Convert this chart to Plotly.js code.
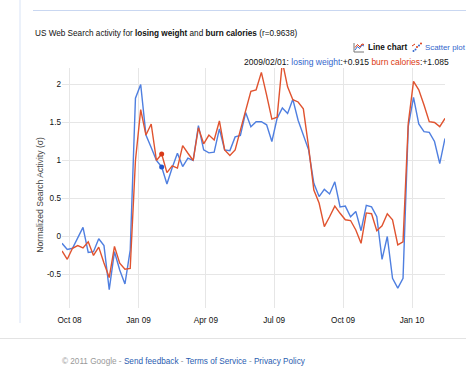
<!DOCTYPE html>
<html>
<head>
<meta charset="utf-8">
<script src="https://cdn.plot.ly/plotly-3.0.1.min.js"></script>
<style>
html,body{margin:0;padding:0;background:#fff;}
#chart{width:466px;height:381px;}
</style>
</head>
<body>
<div id="chart"></div>
<script>
// Weekly dates (Sundays)
const weeks = [
'2008-09-21','2008-09-28','2008-10-05','2008-10-12','2008-10-19','2008-10-26','2008-11-02','2008-11-09','2008-11-16','2008-11-23','2008-11-30','2008-12-07','2008-12-14','2008-12-21','2008-12-28',
'2009-01-04','2009-01-11','2009-01-18','2009-01-25','2009-02-01','2009-02-08','2009-02-15','2009-02-22','2009-03-01','2009-03-08','2009-03-15','2009-03-22','2009-03-29',
'2009-04-05','2009-04-12','2009-04-19','2009-04-26','2009-05-03','2009-05-10','2009-05-17','2009-05-24','2009-05-31','2009-06-07','2009-06-14','2009-06-21','2009-06-28',
'2009-07-05','2009-07-12','2009-07-19','2009-07-26','2009-08-02','2009-08-09','2009-08-16','2009-08-23','2009-08-30','2009-09-06','2009-09-13','2009-09-20','2009-09-27',
'2009-10-04','2009-10-11','2009-10-18','2009-10-25','2009-11-01','2009-11-08','2009-11-15','2009-11-22','2009-11-29','2009-12-06','2009-12-13','2009-12-20','2009-12-27',
'2010-01-03','2010-01-10','2010-01-17','2010-01-24','2010-01-31','2010-02-07','2010-02-14'
];

const losingWeight = [
-0.09,-0.17,-0.155,-0.02,0.12,-0.21,-0.20,-0.03,-0.12,-0.70,-0.20,-0.44,-0.625,-0.18,1.82,
2.0,1.335,1.17,1.0,0.915,0.69,0.905,1.095,0.92,1.03,1.0,1.46,1.14,
1.10,1.11,1.415,1.14,1.13,1.31,1.33,1.63,1.445,1.51,1.51,1.47,1.25,
1.555,1.69,1.62,1.805,1.53,1.34,1.14,0.70,0.525,0.62,0.56,0.72,0.39,
0.40,0.26,0.33,0.076,0.41,0.39,0.26,-0.30,0.0,-0.55,-0.68,-0.55,1.45,
1.83,1.48,1.38,1.37,1.25,0.96,1.29
];

const burnCalories = [
-0.19,-0.30,-0.155,-0.12,-0.15,-0.07,-0.25,-0.14,-0.35,-0.54,-0.13,-0.35,-0.43,-0.42,1.0,
1.67,1.335,1.48,1.0,1.085,0.84,0.93,0.90,1.195,1.095,1.0,1.43,1.22,
1.335,1.27,1.52,1.14,1.065,1.14,1.40,1.655,1.91,1.93,2.16,1.86,1.545,
1.57,2.3,1.97,1.80,1.77,1.68,1.18,0.61,0.44,0.13,0.26,0.40,0.305,
0.22,0.21,0.085,-0.09,0.31,0.30,0.076,0.14,0.30,0.22,-0.11,-0.07,1.49,
2.04,1.93,1.73,1.51,1.50,1.445,1.555
];

const yTickVals = [-0.5, 0, 0.5, 1, 1.5, 2];
const yTickText = ['-0.5', '0', '0.5', '1', '1.5', '2'];
const seriesNames = ['losing weight', 'burn calories'];
const hoverIdx = 19;

const BLUE = '#4f7fe0', RED = '#e0532f';
const FONT = 'Arial, "Liberation Sans", sans-serif';

// page-pixel -> paper helpers (plot area 62..445 x 68..308)
const L = 62, T = 68, PW = 383, PH = 240;
const px = x => (x - L) / PW;
const py = y => (T + PH - y) / PH;
const P = (x, y) => px(x) + ',' + py(y);

const traces = [
  {x: weeks, y: losingWeight, type: 'scatter', mode: 'lines', name: seriesNames[0],
   line: {color: BLUE, width: 1.4}, hoverinfo: 'skip'},
  {x: weeks, y: burnCalories, type: 'scatter', mode: 'lines', name: seriesNames[1],
   line: {color: RED, width: 1.4}, hoverinfo: 'skip'},
  {x: [weeks[hoverIdx]], y: [losingWeight[hoverIdx]], type: 'scatter', mode: 'markers',
   marker: {color: '#2255cc', size: 5}, hoverinfo: 'skip'},
  {x: [weeks[hoverIdx]], y: [burnCalories[hoverIdx]], type: 'scatter', mode: 'markers',
   marker: {color: '#d83a18', size: 5}, hoverinfo: 'skip'}
];

const fmt = v => (v >= 0 ? '+' : '') + v.toFixed(3);
const hoverText = weeks[hoverIdx].replace(/-/g, '/') + ': ' +
  '<span style="color:#3366cc">' + seriesNames[0] + '</span>:' + fmt(losingWeight[hoverIdx]) + ' ' +
  '<span style="color:#dc3912">' + seriesNames[1] + '</span>:' + fmt(burnCalories[hoverIdx]);

const ann = (x, y, text, opts) => Object.assign({
  xref: 'paper', yref: 'paper', x: px(x), y: py(y), text: text, showarrow: false,
  xanchor: 'left', yanchor: 'middle', font: {family: FONT, size: 8.2, color: '#111'}
}, opts || {});

const layout = {
  width: 466, height: 381,
  margin: {l: L, r: 466 - L - PW, t: T, b: 381 - T - PH, pad: 0},
  paper_bgcolor: '#fff', plot_bgcolor: '#fff',
  showlegend: false,
  font: {family: FONT, size: 8.2, color: '#111'},
  xaxis: {
    type: 'date', range: ['2008-09-21', '2010-02-14'],
    tick0: '2008-10-01', dtick: 'M3', tickformat: '%b %y',
    showgrid: true, gridcolor: '#e6e6e6', gridwidth: 1,
    zeroline: false, showline: false, ticks: '',
    ticklabelstandoff: 6,
    tickfont: {family: FONT, size: 8.2, color: '#111'},
    fixedrange: true
  },
  yaxis: {
    range: [-0.941, 2.217],
    tickvals: yTickVals, ticktext: yTickText,
    showgrid: true, gridcolor: '#e6e6e6', gridwidth: 1,
    zeroline: false, showline: false, ticks: '',
    tickfont: {family: FONT, size: 8.2, color: '#111'},
    fixedrange: true
  },
  annotations: [
    ann(33, 33, 'US Web Search activity for <b>losing weight</b> and <b>burn calories</b> (r=0.9638)'),
    ann(366, 47.5, '<b>Line chart</b>', {font: {family: FONT, size: 8.2, color: '#111'}}),
    ann(423, 47.5, 'Scatter plot', {font: {family: FONT, size: 7.9, color: '#3366cc'}}),
    ann(242, 62, hoverText, {font: {family: FONT, size: 8.5, color: '#111'}}),
    ann(39.7, 195, 'Normalized Search Activity (σ)', {xanchor: 'center', textangle: -90,
      font: {family: FONT, size: 8.6, color: '#444'}}),
    ann(60, 361, '© 2011 Google - <span style="color:#2a5db0">Send feedback</span> - ' +
      '<span style="color:#2a5db0">Terms of Service</span> - <span style="color:#2a5db0">Privacy Policy</span>',
      {font: {family: FONT, size: 8.2, color: '#999'}})
  ],
  shapes: [
    // page decorations
    {type: 'line', xref: 'paper', yref: 'paper', x0: px(20), x1: px(20), y0: py(0), y1: py(323),
     line: {color: '#d8e3f6', width: 1}, layer: 'below'},
    {type: 'line', xref: 'paper', yref: 'paper', x0: px(33), x1: px(466), y0: py(10.5), y1: py(10.5),
     line: {color: '#c9d7f1', width: 1}, layer: 'below'},
    {type: 'line', xref: 'paper', yref: 'paper', x0: px(0), x1: px(466), y0: py(338.5), y1: py(338.5),
     line: {color: '#e3e3e3', width: 1}, layer: 'below'},
    // line chart icon
    {type: 'path', xref: 'paper', yref: 'paper', path: 'M' + P(354, 43) + 'L' + P(354, 52) + 'L' + P(364, 52),
     line: {color: '#777', width: 1}},
    {type: 'path', xref: 'paper', yref: 'paper',
     path: 'M' + P(355, 50) + 'L' + P(357.5, 46.5) + 'L' + P(359.5, 48.5) + 'L' + P(362, 45) + 'L' + P(364, 46),
     line: {color: '#3366cc', width: 1}},
    {type: 'path', xref: 'paper', yref: 'paper',
     path: 'M' + P(355, 47.5) + 'L' + P(357.5, 44.5) + 'L' + P(360, 47) + 'L' + P(362, 44) + 'L' + P(364, 44.5),
     line: {color: '#dc3912', width: 1}},
    // scatter icon
    {type: 'circle', xref: 'paper', yref: 'paper', x0: px(412.5), x1: px(414.5), y0: py(50), y1: py(52),
     fillcolor: '#3366cc', line: {width: 0}},
    {type: 'circle', xref: 'paper', yref: 'paper', x0: px(414.5), x1: px(416.5), y0: py(48.5), y1: py(50.5),
     fillcolor: '#3366cc', line: {width: 0}},
    {type: 'circle', xref: 'paper', yref: 'paper', x0: px(416), x1: px(418), y0: py(46), y1: py(48),
     fillcolor: '#dc3912', line: {width: 0}},
    {type: 'circle', xref: 'paper', yref: 'paper', x0: px(418), x1: px(420), y0: py(44.5), y1: py(46.5),
     fillcolor: '#3366cc', line: {width: 0}},
    {type: 'circle', xref: 'paper', yref: 'paper', x0: px(420), x1: px(422), y0: py(42.5), y1: py(44.5),
     fillcolor: '#dc3912', line: {width: 0}},
    {type: 'line', xref: 'paper', yref: 'paper', x0: px(412), x1: px(415), y0: py(46), y1: py(44),
     line: {color: '#dc3912', width: 1}}
  ]
};

Plotly.newPlot('chart', traces, layout, {displayModeBar: false, staticPlot: true});
</script>
</body>
</html>
